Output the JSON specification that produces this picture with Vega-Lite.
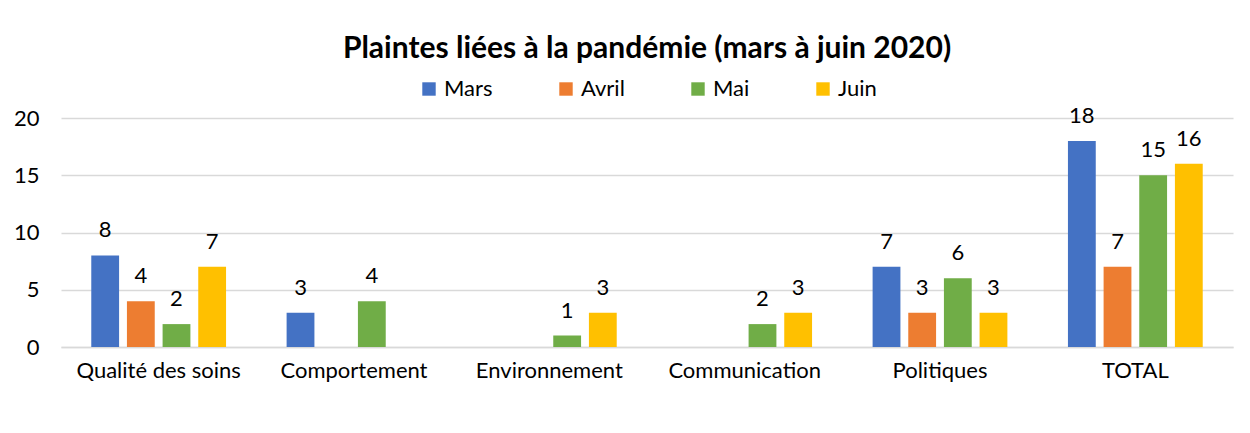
{
  "$schema": "https://vega.github.io/schema/vega-lite/v6.json",
  "width": 1172,
  "height": 229,
  "autosize": {"type": "none"},
  "padding": {"left": 61, "top": 118, "right": 17, "bottom": 86},
  "background": "white",
  "title": {
    "text": "Plaintes liées à la pandémie (mars à juin 2020)",
    "font": "Lato",
    "fontSize": 30,
    "fontWeight": "bold",
    "color": "#000000",
    "anchor": "middle",
    "offset": 14
  },
  "data": {
    "values": [
      {"categorie": "Qualité des soins", "mois": "Mars", "nombre": 8},
      {"categorie": "Qualité des soins", "mois": "Avril", "nombre": 4},
      {"categorie": "Qualité des soins", "mois": "Mai", "nombre": 2},
      {"categorie": "Qualité des soins", "mois": "Juin", "nombre": 7},
      {"categorie": "Comportement", "mois": "Mars", "nombre": 3},
      {"categorie": "Comportement", "mois": "Avril", "nombre": 0},
      {"categorie": "Comportement", "mois": "Mai", "nombre": 4},
      {"categorie": "Comportement", "mois": "Juin", "nombre": 0},
      {"categorie": "Environnement", "mois": "Mars", "nombre": 0},
      {"categorie": "Environnement", "mois": "Avril", "nombre": 0},
      {"categorie": "Environnement", "mois": "Mai", "nombre": 1},
      {"categorie": "Environnement", "mois": "Juin", "nombre": 3},
      {"categorie": "Communication", "mois": "Mars", "nombre": 0},
      {"categorie": "Communication", "mois": "Avril", "nombre": 0},
      {"categorie": "Communication", "mois": "Mai", "nombre": 2},
      {"categorie": "Communication", "mois": "Juin", "nombre": 3},
      {"categorie": "Politiques", "mois": "Mars", "nombre": 7},
      {"categorie": "Politiques", "mois": "Avril", "nombre": 3},
      {"categorie": "Politiques", "mois": "Mai", "nombre": 6},
      {"categorie": "Politiques", "mois": "Juin", "nombre": 3},
      {"categorie": "TOTAL", "mois": "Mars", "nombre": 18},
      {"categorie": "TOTAL", "mois": "Avril", "nombre": 7},
      {"categorie": "TOTAL", "mois": "Mai", "nombre": 15},
      {"categorie": "TOTAL", "mois": "Juin", "nombre": 16}
    ]
  },
  "encoding": {
    "x": {
      "field": "categorie",
      "type": "nominal",
      "sort": null,
      "scale": {"paddingInner": 0.31, "paddingOuter": 0.155},
      "axis": {
        "title": null,
        "labelAngle": 0,
        "labelFont": "Lato",
        "labelFontSize": 22,
        "labelColor": "#000000",
        "labelPadding": 13,
        "ticks": false,
        "domainColor": "#d9d9d9",
        "domainWidth": 1.5
      }
    },
    "xOffset": {
      "field": "mois",
      "type": "nominal",
      "sort": ["Mars", "Avril", "Mai", "Juin"],
      "scale": {"paddingInner": 0.22, "paddingOuter": 0}
    },
    "y": {
      "field": "nombre",
      "type": "quantitative",
      "scale": {"domain": [0, 20]},
      "axis": {
        "title": null,
        "values": [0, 5, 10, 15, 20],
        "labelFont": "Lato",
        "labelFontSize": 22,
        "labelColor": "#000000",
        "labelPadding": 22,
        "ticks": false,
        "domain": false,
        "gridColor": "#d9d9d9",
        "gridWidth": 1.5
      }
    }
  },
  "layer": [
    {
      "mark": {"type": "bar"},
      "encoding": {
        "color": {
          "field": "mois",
          "type": "nominal",
          "sort": ["Mars", "Avril", "Mai", "Juin"],
          "scale": {
            "domain": ["Mars", "Avril", "Mai", "Juin"],
            "range": ["#4472C4", "#ED7D31", "#70AD47", "#FFC000"]
          },
          "legend": {
            "title": null,
            "orient": "top",
            "direction": "horizontal",
            "symbolType": "square",
            "symbolSize": 180,
            "symbolStrokeWidth": 0,
            "labelFont": "Lato",
            "labelFontSize": 22,
            "labelColor": "#000000",
            "columnPadding": 62,
            "offset": 18
          }
        }
      }
    },
    {
      "transform": [{"filter": "datum.nombre > 0"}],
      "mark": {
        "type": "text",
        "font": "Lato",
        "fontSize": 22,
        "color": "#000000",
        "baseline": "alphabetic",
        "dy": -18
      },
      "encoding": {
        "text": {"field": "nombre", "type": "quantitative"}
      }
    }
  ],
  "config": {
    "view": {"stroke": null},
    "legend": {"layout": {"top": {"anchor": "middle"}}}
  }
}
